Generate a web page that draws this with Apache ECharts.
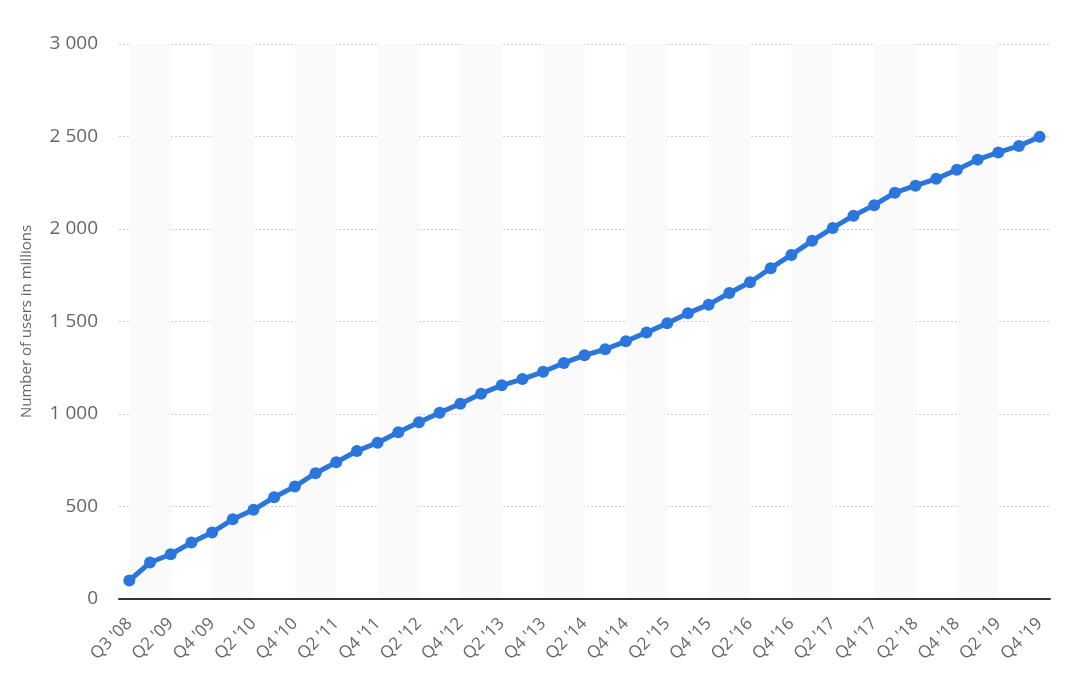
<!DOCTYPE html>
<html><head><meta charset="utf-8">
<script src="https://cdn.jsdelivr.net/npm/echarts@6/dist/echarts.min.js"></script>
<style>html,body{margin:0;padding:0;background:#fff}#c{width:1074px;height:696px}</style>
</head><body><div id="c"></div>
<script>
const categories = ["Q3 '08","Q1 '09","Q2 '09","Q3 '09","Q4 '09",
"Q1 '10","Q2 '10","Q3 '10","Q4 '10",
"Q1 '11","Q2 '11","Q3 '11","Q4 '11",
"Q1 '12","Q2 '12","Q3 '12","Q4 '12",
"Q1 '13","Q2 '13","Q3 '13","Q4 '13",
"Q1 '14","Q2 '14","Q3 '14","Q4 '14",
"Q1 '15","Q2 '15","Q3 '15","Q4 '15",
"Q1 '16","Q2 '16","Q3 '16","Q4 '16",
"Q1 '17","Q2 '17","Q3 '17","Q4 '17",
"Q1 '18","Q2 '18","Q3 '18","Q4 '18",
"Q1 '19","Q2 '19","Q3 '19","Q4 '19"];
const users = [100,197,242,305,360,
431,482,550,608,
680,739,800,845,
901,955,1007,1056,
1110,1155,1189,1228,
1276,1317,1350,1393,
1441,1490,1545,1591,
1654,1712,1788,1860,
1936,2006,2072,2129,
2196,2234,2271,2320,
2375,2414,2449,2498];
const yTicks = [0,500,1000,1500,2000,2500,3000];
const yAxisName = 'Number of users in millions';

const bands = [];
for (let i = 0; i + 2 < categories.length; i += 4) {
  bands.push([{xAxis: categories[i]}, {xAxis: categories[i + 2]}]);
}
const fmt = v => String(v).replace(/\B(?=(\d{3})+(?!\d))/g, ' ');
const font = '"Open Sans", "DejaVu Sans", sans-serif';

const chart = echarts.init(document.getElementById('c'), null, {renderer: 'canvas'});
chart.setOption({
  animation: false,
  backgroundColor: '#ffffff',
  grid: {left: 119, right: 24, top: 44, bottom: 97, containLabel: false},
  xAxis: {
    type: 'category',
    data: categories,
    boundaryGap: true,
    z: 10,
    axisLine: {lineStyle: {color: '#333', width: 2}},
    axisTick: {show: false},
    axisLabel: {interval: 1, rotate: 45, margin: 22, color: '#666', fontSize: 17, fontFamily: font},
    splitLine: {show: false}
  },
  yAxis: {
    type: 'value',
    min: yTicks[0], max: yTicks[yTicks.length - 1], interval: 500,
    name: yAxisName, nameLocation: 'middle', nameGap: 85,
    nameTextStyle: {color: '#666', fontSize: 15, fontFamily: font},
    axisLine: {show: false}, axisTick: {show: false},
    axisLabel: {margin: 21, color: '#666', fontSize: 19, fontFamily: font, formatter: fmt},
    splitLine: {lineStyle: {color: '#cfcfcf', type: [2, 2], width: 1}}
  },
  series: [{
    type: 'line',
    data: users,
    color: '#2a76dd',
    lineStyle: {width: 5, color: '#2a76dd'},
    symbol: 'circle', symbolSize: 12,
    itemStyle: {color: '#2a76dd'},
    markArea: {silent: true, itemStyle: {color: '#fafafa'}, data: bands},
    z: 3
  }]
});
</script></body></html>
